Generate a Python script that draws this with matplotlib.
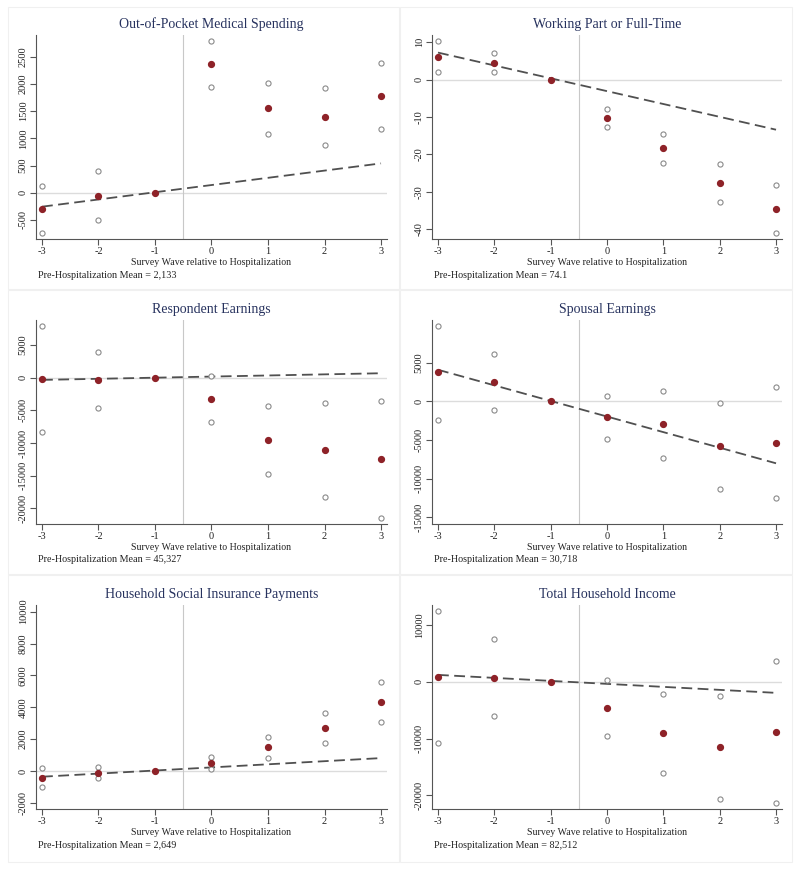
import matplotlib
matplotlib.use("Agg")
import matplotlib.pyplot as plt
from matplotlib.patches import Rectangle

plt.rcParams['font.family'] = ['Liberation Serif', 'DejaVu Serif']

waves = [-3, -2, -1, 0, 1, 2, 3]

titles = ["Out-of-Pocket Medical Spending", "Working Part or Full-Time",
          "Respondent Earnings", "Spousal Earnings",
          "Household Social Insurance Payments", "Total Household Income"]
pre_means = ["2,133", "74.1", "45,327", "30,718", "2,649", "82,512"]

oop_est = [-306, -55, 0, 2371, 1550, 1397, 1771]
oop_hi = [122, 404, None, 2794, 2022, 1924, 2377]
oop_lo = [-735, -502, None, 1936, 1072, 870, 1170]
oop_trend = [-257, 539]

work_est = [6.1, 4.5, 0, -10.3, -18.3, -27.6, -34.5]
work_hi = [10.4, 7.0, None, -7.9, -14.6, -22.5, -28.2]
work_lo = [2.0, 2.0, None, -12.8, -22.2, -32.7, -40.9]
work_trend = [7.2, -13.4]

resp_est = [-254, -305, 0, -3255, -9512, -11089, -12462]
resp_hi = [7935, 3967, None, 254, -4273, -3917, -3510]
resp_lo = [-8393, -4578, None, -6765, -14700, -18210, -21414]
resp_trend = [-356, 661]

spouse_est = [3727, 2528, 0, -2057, -2999, -5784, -5398]
spouse_hi = [9769, 6084, None, 728, 1285, -214, 1799]
spouse_lo = [-2357, -1071, None, -4884, -7326, -11354, -12554]
spouse_trend = [4070, -8012]

ssi_est = [-418, -104, 0, 501, 1482, 2693, 4342]
ssi_hi = [188, 250, None, 856, 2150, 3633, 5616]
ssi_lo = [-1002, -459, None, 125, 835, 1754, 3090]
ssi_trend = [-355, 814]

inc_est = [820, 762, 0, -4628, -9080, -11540, -8846]
inc_hi = [12478, 7616, None, 293, -2109, -2519, 3632]
inc_lo = [-10779, -6034, None, -9549, -15993, -20562, -21324]
inc_trend = [1230, -1933]

yticks = [
    [-500, 0, 500, 1000, 1500, 2000, 2500],
    [-40, -30, -20, -10, 0, 10],
    [-20000, -15000, -10000, -5000, 0, 5000],
    [-15000, -10000, -5000, 0, 5000],
    [-2000, 0, 2000, 4000, 6000, 8000, 10000],
    [-20000, -10000, 0, 10000],
]
ylims = [(-851, 2899), (-42.6, 11.9), (-22380, 8800),
         (-15853, 10497), (-2380, 10418), (-22378, 13533)]

panels = [
    (oop_est, oop_hi, oop_lo, oop_trend),
    (work_est, work_hi, work_lo, work_trend),
    (resp_est, resp_hi, resp_lo, resp_trend),
    (spouse_est, spouse_hi, spouse_lo, spouse_trend),
    (ssi_est, ssi_hi, ssi_lo, ssi_trend),
    (inc_est, inc_hi, inc_lo, inc_trend),
]

W, H = 800, 869
fig = plt.figure(figsize=(W / 100, H / 100), dpi=100)
fig.patch.set_facecolor('white')

# layout in pixels
col_x = [(36, 387), (432, 782)]
row_y = [(35, 239), (320, 524), (605, 809)]
box_x = [(8, 399), (400, 792)]
box_y = [(7, 289), (290, 574), (575, 862)]

title_col = '#27325e'
red = '#8e2228'
grey_pt = '#8a8a8a'

for i, (est, hi, lo, trend) in enumerate(panels):
    r, c = divmod(i, 2)
    # panel frame
    bx0, bx1 = box_x[c]
    by0, by1 = box_y[r]
    fig.patches.append(Rectangle((bx0 / W, 1 - by1 / H), (bx1 - bx0) / W, (by1 - by0) / H,
                                 transform=fig.transFigure, fill=False,
                                 edgecolor='#f0f0f0', linewidth=0.8, zorder=0))
    x0, x1 = col_x[c]
    y0, y1 = row_y[r]
    ax = fig.add_axes([x0 / W, 1 - y1 / H, (x1 - x0) / W, (y1 - y0) / H])
    ax.set_xlim(-3.106, 3.106)
    ax.set_ylim(*ylims[i])
    ax.axhline(0, color='#dcdcdc', lw=1.0, zorder=1)
    ax.axvline(-0.5, color='#c8c8c8', lw=0.8, zorder=1)
    xs_ci = [w for w, v in zip(waves, hi) if v is not None]
    ax.plot(xs_ci, [v for v in hi if v is not None], 'o', mfc='white', mec=grey_pt,
            ms=3.7, mew=0.8, ls='none', zorder=3)
    ax.plot(xs_ci, [v for v in lo if v is not None], 'o', mfc='white', mec=grey_pt,
            ms=3.7, mew=0.8, ls='none', zorder=3)
    ax.plot([-3, 3], trend, color='#505050', lw=1.3, dashes=(6, 3), zorder=2)
    ax.plot(waves, est, 'o', color=red, ms=4.2, ls='none', zorder=4)

    for s in ['top', 'right']:
        ax.spines[s].set_visible(False)
    for s in ['left', 'bottom']:
        ax.spines[s].set_color('#555555')
        ax.spines[s].set_linewidth(0.8)
    ax.set_xticks(waves)
    ax.set_xticklabels([str(w) for w in waves])
    ax.set_yticks(yticks[i])
    ax.set_yticklabels([str(v) for v in yticks[i]], rotation=90, va='center')
    ax.tick_params(axis='both', length=4, width=0.8, color='#555555',
                   labelsize=7.5, pad=2, labelcolor='#222222')
    ax.set_xlabel("Survey Wave relative to Hospitalization", fontsize=7.1,
                  color='#222222', labelpad=1)
    ax.set_title(titles[i], fontsize=10, color=title_col, pad=5)
    fig.text((x0 + 2) / W, 1 - (y1 + 36) / H,
             "Pre-Hospitalization Mean = " + pre_means[i],
             fontsize=7.3, color='#222222', va='center', ha='left')

fig.savefig("out.png", dpi=100, facecolor='white')
